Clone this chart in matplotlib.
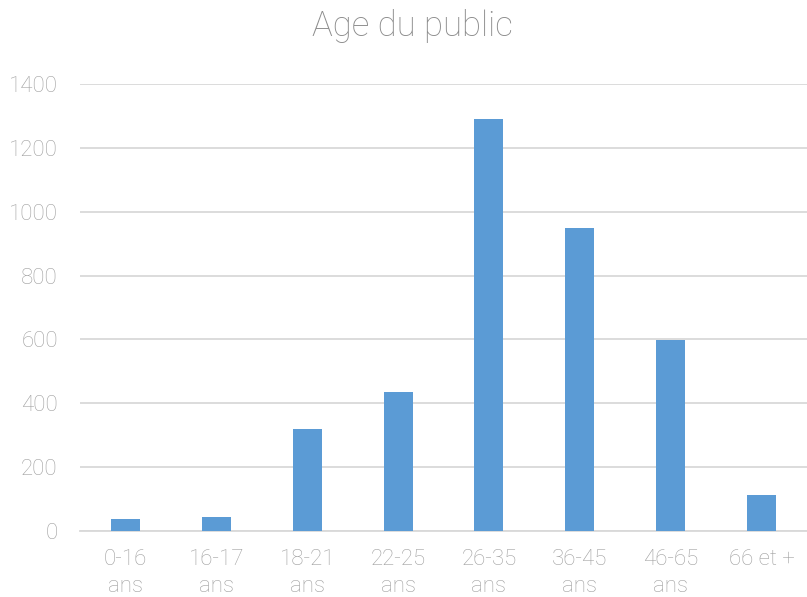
import matplotlib.pyplot as plt
import numpy as np

categories = ["0-16\nans", "16-17\nans", "18-21\nans", "22-25\nans",
              "26-35\nans", "36-45\nans", "46-65\nans", "66 et +"]
values = [38, 44, 320, 435, 1290, 950, 597, 113]
yticks = [0, 200, 400, 600, 800, 1000, 1200, 1400]

plt.rcParams['font.family'] = ['Roboto', 'DejaVu Sans']
plt.rcParams['font.weight'] = 'light'

fig = plt.figure(figsize=(8.07, 5.97), dpi=100)
ax = fig.add_axes([80 / 807, 66 / 597, 727 / 807, 447 / 597])

x = np.arange(len(categories))
ax.bar(x, values, width=0.32, color='#5b9bd5', zorder=3)

ax.set_xlim(-0.5, len(categories) - 0.5)
ax.set_ylim(0, 1400)
ax.set_yticks(yticks)
ax.set_yticklabels([str(v) for v in yticks])
ax.set_xticks(x)
ax.set_xticklabels(categories, linespacing=1.35)

ax.grid(axis='y', color='#d9d9d9', linewidth=1.3, zorder=0)
for s in ['top', 'right', 'left']:
    ax.spines[s].set_visible(False)
ax.spines['bottom'].set_color('#d9d9d9')
ax.spines['bottom'].set_linewidth(1.3)
ax.tick_params(axis='both', length=0, labelsize=16, labelcolor='#a0a0a0')
ax.tick_params(axis='y', pad=16)
ax.tick_params(axis='x', pad=13)

fig.text(412 / 807, 0.985, "Age du public", ha='center', va='top',
         fontsize=25, color='#8c8c8c', fontweight='light')

fig.savefig('out.png', dpi=100)
